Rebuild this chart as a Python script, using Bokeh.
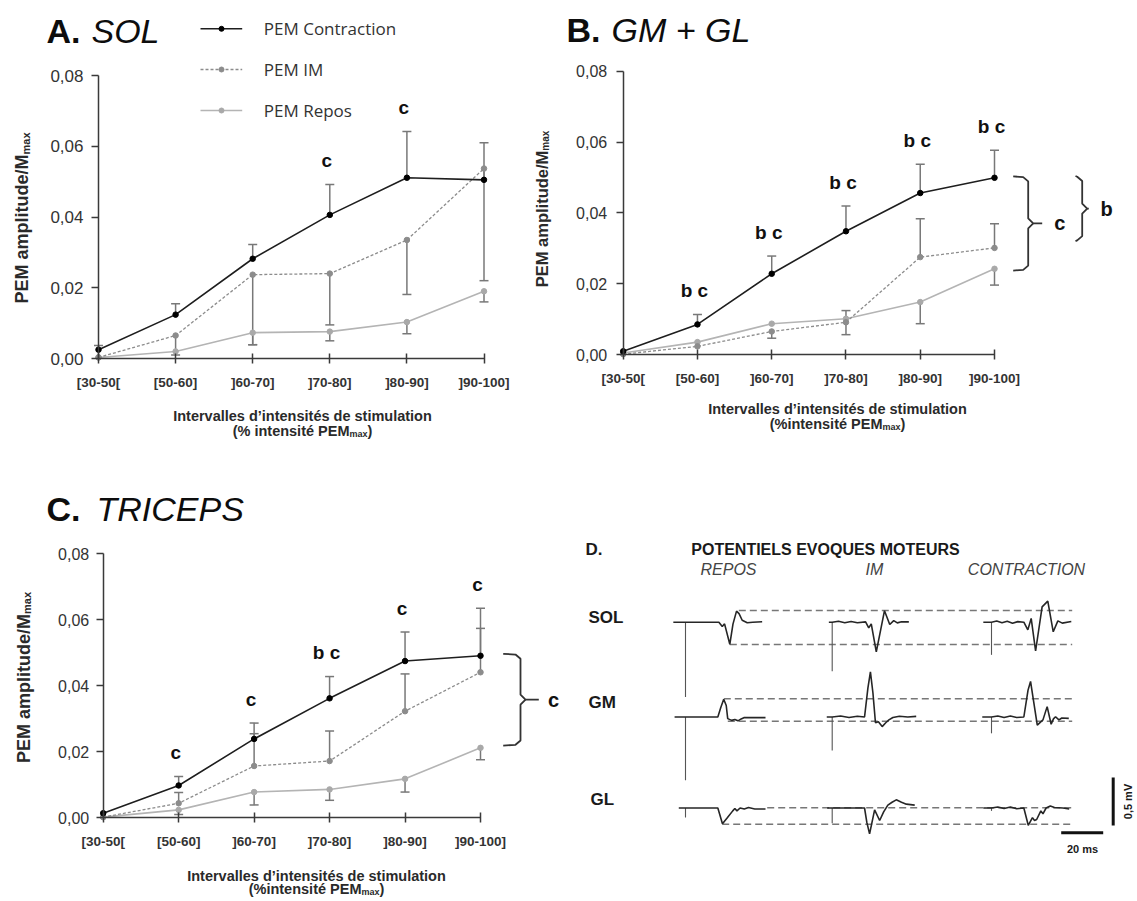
import math
from bokeh.plotting import figure
from bokeh.layouts import column, row
from bokeh.models import (Range1d, LinearAxis, FixedTicker, CustomJSTickFormatter,
                          ColumnDataSource, Whisker, TeeHead, Label)
from bokeh.embed import file_html
from bokeh.resources import INLINE

# ---------------------------------------------------------------- data
CATEGORIES = ["[30-50[", "[50-60]", "]60-70]", "]70-80]", "]80-90]", "]90-100]"]
Y_TICKS = [0.0, 0.02, 0.04, 0.06, 0.08]

# Panel A - SOL  (mean values, and far end of the error bar or None)
A_CONTRACTION = [0.0025, 0.0124, 0.0282, 0.0406, 0.0511, 0.0505]
A_CONTRACTION_ERR = [0.0037, 0.0155, 0.0322, 0.0492, 0.0642, 0.0610]
A_IM = [0.0003, 0.0065, 0.0237, 0.0240, 0.0335, 0.0537]
A_IM_ERR = [None, 0.0010, 0.0039, 0.0095, 0.0181, 0.0220]
A_REPOS = [0.0003, 0.0020, 0.0073, 0.0076, 0.0103, 0.0190]
A_REPOS_ERR = [None, None, 0.0039, 0.0050, 0.0070, 0.0160]
A_SIG = ["", "", "", "c", "c", ""]

# Panel B - GM + GL
B_CONTRACTION = [0.0009, 0.0085, 0.0228, 0.0348, 0.0456, 0.0499]
B_CONTRACTION_ERR = [None, 0.0113, 0.0278, 0.0419, 0.0537, 0.0577]
B_IM = [0.0001, 0.0023, 0.0065, 0.0091, 0.0275, 0.0301]
B_IM_ERR = [None, None, 0.0046, 0.0056, 0.0383, 0.0369]
B_REPOS = [0.0004, 0.0035, 0.0087, 0.0101, 0.0148, 0.0242]
B_REPOS_ERR = [None, None, None, 0.0124, 0.0087, 0.0196]
B_SIG = ["", "b c", "b c", "b c", "b c", "b c"]
B_BRACES = [("c", 0.0503, 0.0237), ("b", 0.0504, 0.0320)]

# Panel C - TRICEPS
C_CONTRACTION = [0.0014, 0.0098, 0.0239, 0.0362, 0.0475, 0.0491]
C_CONTRACTION_ERR = [None, 0.0125, 0.0287, 0.0428, 0.0563, 0.0574]
C_IM = [0.0002, 0.0044, 0.0157, 0.0172, 0.0323, 0.0441]
C_IM_ERR = [None, 0.0077, 0.0255, 0.0263, 0.0436, 0.0635]
C_REPOS = [0.0002, 0.0024, 0.0078, 0.0086, 0.0118, 0.0212]
C_REPOS_ERR = [None, 0.0010, 0.0039, 0.0053, 0.0078, 0.0176]
C_SIG = ["", "c", "c", "b c", "c", "c"]
C_BRACES = [("c", 0.0497, 0.0219)]

LEGEND_LABELS = ["PEM Contraction", "PEM IM", "PEM Repos"]

# Panel D - motor evoked potentials (time ms from stimulus, amplitude mV from baseline)
D_COLUMNS = ["REPOS", "IM", "CONTRACTION"]
D_ROWS = ["SOL", "GM", "GL"]
SOL_REPOS_T = [-5.8, 0, 15.9, 17.5, 18.6, 21.1, 22.6, 24.3, 25.5, 27.0, 29.4, 32.0, 36.5]
SOL_REPOS_V = [0, 0, 0, -0.045, -0.017, -0.23, -0.02, 0.115, 0.09, 0.02, -0.005, 0.0, 0.005]
SOL_IM_T = [-1.6, 0, 3, 6, 9, 12, 15.9, 17.4, 18.6, 21.0, 24.9, 27.4, 29.3, 31.0, 33.0, 36.5]
SOL_IM_V = [0, 0, 0.01, -0.005, 0.008, -0.005, 0.003, -0.059, -0.017, -0.31, 0.12, -0.024, 0.017, -0.007, 0.004, 0.003]
SOL_CONTR_T = [-3.9, 0, 2.5, 5, 7.5, 10, 12.5, 15.4, 17.3, 18.9, 21.0, 24.1, 26.8, 29.4, 31.6, 33.7, 38.0]
SOL_CONTR_V = [0, 0, 0.012, -0.006, 0.01, -0.01, 0.006, 0, -0.08, 0.04, -0.30, 0.16, 0.22, -0.10, 0.014, -0.01, 0.007]
GM_REPOS_T = [-5.2, 0, 15.4, 16.8, 18.2, 19.4, 20.1, 22.0, 23.5, 25.0, 26.5, 27.8, 38.1]
GM_REPOS_V = [0, 0, 0, 0.10, 0.185, 0.12, -0.017, -0.035, -0.025, -0.04, -0.02, -0.007, -0.007]
GM_IM_T = [-2.6, 0, 4, 8, 12, 15.4, 17.0, 18.2, 19.4, 20.6, 22.0, 23.8, 25.5, 27.0, 28.9, 32.0, 36.0, 40.0]
GM_IM_V = [0, 0, 0.01, -0.005, 0.008, 0, 0.30, 0.47, 0.25, -0.06, -0.05, -0.10, -0.06, -0.03, -0.005, 0.008, 0, 0.007]
GM_CONTR_T = [-4.4, 0, 3, 6, 9, 12, 15.4, 17.4, 18.6, 19.8, 21.8, 24.5, 26.5, 28.4, 29.5, 30.5, 32.1, 33.5, 36.8]
GM_CONTR_V = [0, 0, 0.01, -0.006, 0.01, -0.005, 0, 0.28, 0.37, 0.20, -0.085, -0.03, 0.108, -0.075, -0.02, 0.003, -0.03, -0.01, -0.014]
GL_REPOS_T = [-3.2, 0, 15.4, 17.6, 20.0, 22.5, 23.5, 24.5, 26.0, 28.0, 30.0, 33.0, 38.1]
GL_REPOS_V = [0, 0, 0, -0.165, -0.10, -0.03, -0.005, -0.03, 0.0, -0.01, 0.005, -0.01, -0.01]
GL_IM_T = [-2.4, 0, 15.4, 16.5, 17.8, 20.2, 22.6, 24.5, 26.5, 28.5, 30.5, 33.0, 35.3, 39.3]
GL_IM_V = [0, 0, 0, -0.15, -0.27, -0.02, -0.13, -0.04, 0.03, 0.06, 0.085, 0.06, 0.04, 0.03]
GL_CONTR_T = [-3.9, 0, 3, 6, 9, 12, 15.4, 17.5, 19.5, 20.5, 21.5, 23.5, 24.5, 26.0, 28.0, 30.0, 34.0, 37.0]
GL_CONTR_V = [0, 0, 0.01, -0.006, 0.01, -0.008, 0, -0.18, -0.10, -0.13, -0.12, -0.03, -0.06, 0.0, 0.02, 0.005, 0.0, -0.01]
# stimulus artifact depth (mV) for [REPOS, IM, CONTRACTION]
SOL_ARTIFACT = [-0.78, -0.51, -0.34]
GM_ARTIFACT = [-0.66, -0.35, -0.17]
GL_ARTIFACT = [-0.10, -0.16, -0.03]
# reference (dashed) levels, mV from baseline: (upper, lower)
SOL_LEVELS = (0.122, -0.232)
GM_LEVELS = (0.19, -0.044)
GL_LEVELS = (0.003, -0.17)
SCALE_MV = 0.5
SCALE_MS = 20

# ---------------------------------------------------------------- layout helpers
FONT = "Liberation Sans"


class G:
    """Maps page pixels of the reference to data units of one panel."""
    def __init__(self, left, top, width, height, ox, sx, oy, sy):
        self.left, self.top, self.width, self.height = left, top, width, height
        self.ox, self.sx, self.oy, self.sy = ox, sx, oy, sy

    def x(self, px):
        return (px - self.ox) / self.sx

    def y(self, py):
        return (self.oy - py) / self.sy

    def dx(self, px):
        return px / self.sx

    def dy(self, px):
        return px / self.sy


GA = G(0, 0, 527, 452, 98.0, 77.1, 358.0, 283.0 / 0.08)
GB = G(527, 0, 608, 452, 622.7, 74.26, 354.0, 283.3 / 0.08)
GC = G(0, 452, 562, 447, 102.7, 75.46, 817.3, 264.0 / 0.08)
GD = G(562, 452, 573, 447, 562.0, 2.1, 452.0, 96.0)


def make_fig(g):
    p = figure(width=g.width, height=g.height,
               x_range=Range1d(g.x(g.left), g.x(g.left + g.width)),
               y_range=Range1d(g.y(g.top + g.height), g.y(g.top)),
               x_axis_type=None, y_axis_type=None, output_backend="svg",
               toolbar_location=None, tools="", title=None, min_border=0)
    p.outline_line_color = None
    p.background_fill_color = "white"
    p.border_fill_color = "white"
    return p


def label(p, g, px, py, text, size, bold=False, italic=False, align="left",
          baseline="middle", color="#1a1a1a", angle=0.0, font=FONT):
    style = "bold italic" if (bold and italic) else ("bold" if bold else ("italic" if italic else "normal"))
    p.add_layout(Label(x=g.x(px), y=g.y(py), text=text, text_font=font,
                       text_font_size=f"{size}px", text_font_style=style,
                       text_align=align, text_baseline=baseline, text_color=color,
                       angle=angle))


STYLE = {
    "repos": dict(color="#b4b4b4", dash="solid", width=1.6, marker="#a9a9a9"),
    "im": dict(color="#8c8c8c", dash="3 2", width=1.3, marker="#8c8c8c"),
    "contraction": dict(color="#1e1e1e", dash="solid", width=1.6, marker="#000000"),
}
ERR_COLOR = "#787878"


def add_axes(p, g, ytick_size, ytick_standoff):
    yax = LinearAxis(fixed_location=0, bounds=(0, 0.08), ticker=FixedTicker(ticks=Y_TICKS),
                     formatter=CustomJSTickFormatter(code="return tick.toFixed(2).replace('.', ',');"))
    yax.axis_line_color = "#3a3a3a"
    yax.axis_line_width = 1.5
    yax.major_tick_line_color = "#3a3a3a"
    yax.major_tick_line_width = 1.5
    yax.major_tick_out = 7
    yax.major_tick_in = 0
    yax.minor_tick_line_color = None
    yax.major_label_text_font = FONT
    yax.major_label_text_font_size = f"{ytick_size}px"
    yax.major_label_text_color = "#333333"
    yax.major_label_standoff = ytick_standoff
    p.add_layout(yax, "left")

    n = len(CATEGORIES)
    xax = LinearAxis(fixed_location=0, bounds=(0, n - 1), ticker=FixedTicker(ticks=list(range(n))),
                     formatter=CustomJSTickFormatter(args=dict(labels=CATEGORIES),
                                                     code="const i = Math.round(tick); return (i >= 0 && i < labels.length) ? labels[i] : '';"))
    xax.axis_line_color = "#3a3a3a"
    xax.axis_line_width = 1.5
    xax.major_tick_line_color = "#3a3a3a"
    xax.major_tick_line_width = 1.5
    xax.major_tick_out = 5
    xax.major_tick_in = 5
    xax.minor_tick_line_color = None
    xax.major_label_text_font = FONT
    xax.major_label_text_font_size = "13.5px"
    xax.major_label_text_font_style = "bold"
    xax.major_label_text_color = "#333333"
    xax.major_label_standoff = 11
    p.add_layout(xax, "below")


def add_errors(p, vals, ends):
    up = [(i, v, e) for i, (v, e) in enumerate(zip(vals, ends)) if e is not None and e > v]
    down = [(i, v, e) for i, (v, e) in enumerate(zip(vals, ends)) if e is not None and e < v]
    if up:
        src = ColumnDataSource(dict(x=[a[0] for a in up], lo=[a[1] for a in up], hi=[a[2] for a in up]))
        p.add_layout(Whisker(source=src, base="x", lower="lo", upper="hi", line_color=ERR_COLOR,
                             line_width=1.5, lower_head=None,
                             upper_head=TeeHead(size=9, line_color=ERR_COLOR, line_width=1.5)))
    if down:
        src = ColumnDataSource(dict(x=[a[0] for a in down], lo=[a[2] for a in down], hi=[a[1] for a in down]))
        p.add_layout(Whisker(source=src, base="x", lower="lo", upper="hi", line_color=ERR_COLOR,
                             line_width=1.5, upper_head=None,
                             lower_head=TeeHead(size=9, line_color=ERR_COLOR, line_width=1.5)))


def add_series(p, vals, key):
    st = STYLE[key]
    src = ColumnDataSource(dict(x=list(range(len(vals))), y=vals))
    p.line("x", "y", source=src, line_color=st["color"], line_width=st["width"], line_dash=st["dash"])
    p.scatter("x", "y", source=src, size=5.5, fill_color=st["marker"], line_color=st["marker"])


def add_sig(p, g, sig, series_list, size=19):
    for i, s in enumerate(sig):
        if not s:
            continue
        top = 0.0
        for vals, ends in series_list:
            top = max(top, vals[i])
            if ends[i] is not None:
                top = max(top, ends[i])
        p.add_layout(Label(x=i - g.dx(3), y=top + g.dy(24), text=s, text_font=FONT,
                           text_font_size=f"{size}px", text_font_style="bold",
                           text_align="center", text_baseline="alphabetic", text_color="#111111"))


def add_brace(p, g, letter, top, bottom, off_left, off_vert, off_tip, off_label):
    xl = 5 + g.dx(off_left)
    xv = 5 + g.dx(off_vert)
    xt = 5 + g.dx(off_tip)
    rx, ry = g.dx(5), g.dy(5)
    mid = (top + bottom) / 2.0
    xs = [[xl, xv - rx, xv, xv, xv + rx, xt],
          [xl, xv - rx, xv, xv, xv + rx]]
    ys = [[top, top - ry * 0.15, top - ry, mid + ry, mid, mid],
          [bottom, bottom + ry * 0.15, bottom + ry, mid - ry, mid]]
    p.multi_line(xs, ys, line_color="#333333", line_width=1.8)
    p.add_layout(Label(x=5 + g.dx(off_label), y=mid, text=letter, text_font=FONT,
                       text_font_size="20px", text_font_style="bold", text_align="center",
                       text_baseline="middle", text_color="#111111"))


def add_ylabel(p, g, cx, cy, size, sub_size):
    main = "PEM amplitude/M"
    main_w = 8.279 * size
    sub_w = 2.0 * sub_size
    total = main_w + sub_w
    start = cy + total / 2.0
    label(p, g, cx, start, main, size, bold=True, angle=math.pi / 2, color="#2a2a2a")
    label(p, g, cx + size * 0.22, start - main_w, "max", sub_size, bold=True,
          angle=math.pi / 2, color="#2a2a2a")


def add_xtitle(p, g, cx, y1, y2, line2_main, main_em, size=14.5, sub_size=9):
    label(p, g, cx, y1, "Intervalles d\u2019intensit\u00e9s de stimulation", size, bold=True,
          align="center", color="#2a2a2a")
    main_w = main_em * size
    sub_w = 2.0 * sub_size
    close_w = 0.333 * size
    x0 = cx - (main_w + sub_w + close_w) / 2.0
    label(p, g, x0, y2, line2_main, size, bold=True, color="#2a2a2a")
    label(p, g, x0 + main_w, y2 + 3.5, "max", sub_size, bold=True, color="#2a2a2a")
    label(p, g, x0 + main_w + sub_w, y2, ")", size, bold=True, color="#2a2a2a")


def add_title(p, g, x_letter, x_name, y, letter, name, size=34):
    label(p, g, x_letter, y, letter, size, bold=True, color="#0d0d0d")
    label(p, g, x_name, y, name, size, italic=True, color="#0d0d0d")


def line_chart(g, data, sig, ytick_size, ytick_standoff):
    p = make_fig(g)
    add_axes(p, g, ytick_size, ytick_standoff)
    for key in ["repos", "im", "contraction"]:
        vals, ends = data[key]
        add_errors(p, vals, ends)
    for key in ["repos", "im", "contraction"]:
        vals, ends = data[key]
        add_series(p, vals, key)
    add_sig(p, g, sig, [data[k] for k in data])
    return p


# ---------------------------------------------------------------- panel A
pA = line_chart(GA, {"contraction": (A_CONTRACTION, A_CONTRACTION_ERR), "im": (A_IM, A_IM_ERR),
                     "repos": (A_REPOS, A_REPOS_ERR)}, A_SIG, 17, 8)
add_title(pA, GA, 46, 91, 30, "A.", "SOL")
add_ylabel(pA, GA, 21.7, 217.5, 18, 11)
add_xtitle(pA, GA, 302, 415, 430, "(% intensit\u00e9 PEM", 8.057)
# legend
for key, lab, ly in zip(["contraction", "im", "repos"], LEGEND_LABELS, [28.3, 69.0, 110.0]):
    st = STYLE[key]
    pA.line([GA.x(200), GA.x(241.7)], [GA.y(ly), GA.y(ly)], line_color=st["color"],
            line_width=st["width"], line_dash=st["dash"])
    pA.scatter([GA.x(221)], [GA.y(ly)], size=5, fill_color=st["marker"], line_color=st["marker"])
    label(pA, GA, 263.3, ly, lab, 17, color="#333333", font="Open Sans")

# ---------------------------------------------------------------- panel B
pB = line_chart(GB, {"contraction": (B_CONTRACTION, B_CONTRACTION_ERR), "im": (B_IM, B_IM_ERR),
                     "repos": (B_REPOS, B_REPOS_ERR)}, B_SIG, 16, 9)
add_title(pB, GB, 566, 611, 29, "B.", "GM + GL")
add_ylabel(pB, GB, 541.6, 208.5, 16.5, 10)
add_xtitle(pB, GB, 837, 408, 423, "(%intensit\u00e9 PEM", 7.779)
add_brace(pB, GB, B_BRACES[0][0], B_BRACES[0][1], B_BRACES[0][2], 18.7, 33.7, 47.7, 65.3)
add_brace(pB, GB, B_BRACES[1][0], B_BRACES[1][1], B_BRACES[1][2], 81.0, 87.7, 94.3, 112.0)

# ---------------------------------------------------------------- panel C
pC = line_chart(GC, {"contraction": (C_CONTRACTION, C_CONTRACTION_ERR), "im": (C_IM, C_IM_ERR),
                     "repos": (C_REPOS, C_REPOS_ERR)}, C_SIG, 16, 7)
add_title(pC, GC, 46, 96, 508, "C.", "TRICEPS")
add_ylabel(pC, GC, 23, 677, 18, 11)
add_xtitle(pC, GC, 316, 875, 888, "(%intensit\u00e9 PEM", 7.779)
add_brace(pC, GC, C_BRACES[0][0], C_BRACES[0][1], C_BRACES[0][2], 22.7, 40.0, 58.3, 73.0)

# ---------------------------------------------------------------- panel D
pD = make_fig(GD)
label(pD, GD, 585, 549, "D.", 17, bold=True, color="#1a1a1a")
label(pD, GD, 825, 549, "POTENTIELS EVOQUES MOTEURS", 16, bold=True, align="center", color="#1a1a1a")
for name, cx in zip(D_COLUMNS, [728, 874, 1026]):
    label(pD, GD, cx, 569, name, 16, italic=True, align="center", color="#444444")

row_base_px = {"SOL": 621.7, "GM": 716.5, "GL": 807.5}
row_label_px = {"SOL": (588, 617), "GM": (588, 702), "GL": (590, 799)}
col_stim_px = [685.0, 831.7, 991.0]
dash_start_px = {"SOL": (738.3, 729.3), "GM": (723.3, 727.3), "GL": (766.7, 721.7)}
dash_end_px = 1071.7

traces = {
    "SOL": ([(SOL_REPOS_T, SOL_REPOS_V), (SOL_IM_T, SOL_IM_V), (SOL_CONTR_T, SOL_CONTR_V)], SOL_ARTIFACT, SOL_LEVELS),
    "GM": ([(GM_REPOS_T, GM_REPOS_V), (GM_IM_T, GM_IM_V), (GM_CONTR_T, GM_CONTR_V)], GM_ARTIFACT, GM_LEVELS),
    "GL": ([(GL_REPOS_T, GL_REPOS_V), (GL_IM_T, GL_IM_V), (GL_CONTR_T, GL_CONTR_V)], GL_ARTIFACT, GL_LEVELS),
}
for rname in D_ROWS:
    tr, arts, levels = traces[rname]
    base = GD.y(row_base_px[rname])
    lx, ly = row_label_px[rname]
    label(pD, GD, lx, ly, rname, 17, bold=True, color="#1a1a1a")
    # dashed reference levels
    for lev, sx in zip(levels, dash_start_px[rname]):
        pD.line([GD.x(sx), GD.x(dash_end_px)], [base + lev, base + lev], line_color="#777777",
                line_width=1.5, line_dash="7 4")
    for (tt, vv), art, spx in zip(tr, arts, col_stim_px):
        off = GD.x(spx)
        pD.segment(x0=[off], y0=[base], x1=[off], y1=[base + art], line_color="#555555", line_width=1.1)
        pD.line([off + t for t in tt], [base + v for v in vv], line_color="#262626", line_width=1.6)

# scale bars
vx = GD.x(1112.7)
vtop = GD.y(777.0)
pD.line([vx, vx], [vtop, vtop - SCALE_MV], line_color="#111111", line_width=3)
hx = GD.x(1060.7)
hy = GD.y(832.3)
pD.line([hx, hx + SCALE_MS], [hy, hy], line_color="#111111", line_width=3)
label(pD, GD, 1127, 801, "0,5 mV", 11, bold=True, align="center", angle=math.pi / 2, color="#1a1a1a")
label(pD, GD, 1082, 848, "20 ms", 11, bold=True, align="center", color="#1a1a1a")

layout = column(row(pA, pB), row(pC, pD))
html = file_html(layout, INLINE, "PEM")
open("out.html", "w").write(html)
